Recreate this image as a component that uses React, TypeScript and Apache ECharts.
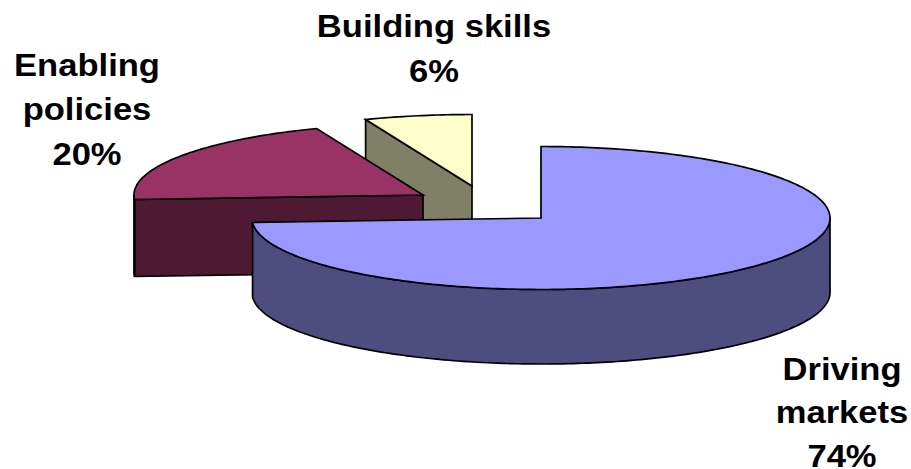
import React, { useEffect, useRef } from "react";
import * as echarts from "echarts";

const categories = ["Driving markets", "Enabling policies", "Building skills"];
const labelLines = ["Driving\nmarkets", "Enabling\npolicies", "Building skills"];
const shares = [74, 20, 6];
const topColors = ["#9999FF", "#993366", "#FFFFCC"];
const sideColors = ["#4D4D80", "#4D1933", "#808066"];

const sliceCentres = [[541, 218], [423, 195], [472, 186]];
const sliceDepths = [74.5, 77, 75];
const labelAnchors = [[842, 347], [87, 42.5], [434, 4]];
const labelLineHeights = [43.5, 44.5, 45];
const RX = 289;
const RY = 71.5;
const STROKE = { stroke: "#000", lineWidth: 1.7, lineJoin: "miter" as const };
const FONT = 'bold 31px "Liberation Sans", Arial, sans-serif';
const LABEL_STRETCH = 1.115;

const total = shares.reduce((a, b) => a + b, 0);
const startOf = (i: number) =>
  (shares.slice(0, i).reduce((a, b) => a + b, 0) / total) * 360;

function rimPoint(c: number[], deg: number, dy = 0) {
  const t = (deg * Math.PI) / 180;
  return [c[0] + RX * Math.sin(t), c[1] - RY * Math.cos(t) + dy];
}

function arc(c: number[], a: number, b: number, dy = 0) {
  const pts: number[][] = [];
  const n = Math.max(1, Math.ceil(Math.abs(b - a)));
  for (let k = 0; k <= n; k++) pts.push(rimPoint(c, a + ((b - a) * k) / n, dy));
  return pts;
}

function poly(points: number[][], fill: string) {
  return { type: "polygon", shape: { points }, style: { fill, ...STROKE } };
}

function cutFace(c: number[], deg: number, depth: number, fill: string) {
  const p = rimPoint(c, deg);
  return poly(
    [c, p, [p[0], p[1] + depth], [c[0], c[1] + depth]],
    fill
  );
}

function renderSlice(_params: any, api: any) {
  const i = api.value(0) as number;
  const value = api.value(1) as number;
  const c = sliceCentres[i];
  const depth = sliceDepths[i];
  const a = startOf(i);
  const b = a + (value / total) * 360;
  const children: any[] = [];

  if (Math.sin((a * Math.PI) / 180) < -1e-6) children.push(cutFace(c, a, depth, sideColors[i]));
  if (Math.sin((b * Math.PI) / 180) > 1e-6) children.push(cutFace(c, b, depth, sideColors[i]));

  const ra = Math.max(a, 90);
  const rb = Math.min(b, 270);
  if (rb > ra) {
    children.push(
      poly([...arc(c, ra, rb), ...arc(c, rb, ra, depth)], sideColors[i])
    );
  }

  children.push(poly([c, ...arc(c, a, b)], topColors[i]));

  return { type: "group", children };
}

function renderLabel(_params: any, api: any) {
  const i = api.value(0) as number;
  const [x, y] = labelAnchors[i];
  return {
    type: "text",
    x,
    y,
    scaleX: LABEL_STRETCH,
    style: {
      x: 0,
      y: 0,
      text: `${labelLines[i]}\n${api.value(1)}%`,
      font: FONT,
      fill: "#000",
      textAlign: "center",
      textVerticalAlign: "top",
      lineHeight: labelLineHeights[i],
    },
  };
}

export default function App() {
  const ref = useRef<HTMLDivElement>(null);
  useEffect(() => {
    document.body.style.margin = "0";
    document.body.style.background = "#fff";
    const chart = echarts.init(ref.current!, undefined, { renderer: "svg" });
    const drawOrder = [2, 1, 0];
    chart.setOption({
      animation: false,
      backgroundColor: "#fff",
      series: [
        {
          type: "custom",
          coordinateSystem: "none",
          silent: true,
          renderItem: renderSlice,
          data: drawOrder.map((i) => ({ name: categories[i], value: [i, shares[i]] })),
          z: 1,
        },
        {
          type: "custom",
          coordinateSystem: "none",
          silent: true,
          renderItem: renderLabel,
          data: drawOrder.map((i) => ({ name: categories[i], value: [i, shares[i]] })),
          z: 2,
        },
      ],
    });
    return () => chart.dispose();
  }, []);
  return <div ref={ref} style={{ width: 911, height: 469 }} />;
}
